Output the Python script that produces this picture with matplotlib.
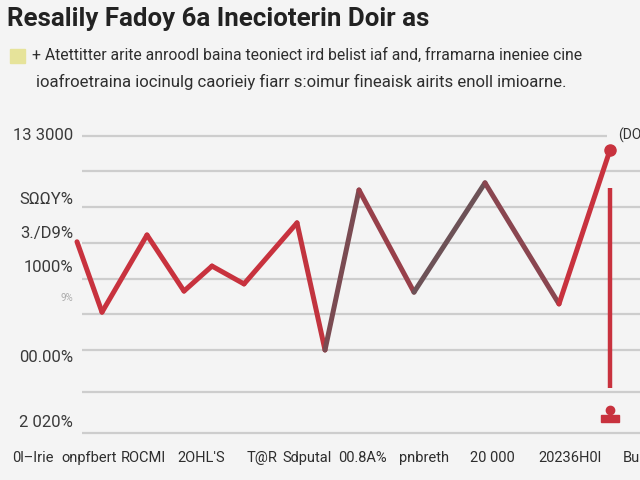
import matplotlib.pyplot as plt
from matplotlib.patches import Rectangle

# chart values (x in periods, y in points of the index)
x_vals = [0, 0.5, 1.4, 2.14, 2.7, 3.34, 4.4, 4.96, 5.64, 6.74, 8.16, 9.64, 10.66]
y_vals = [3.03, 1.06, 3.22, 1.65, 2.35, 1.85, 3.56, 0.0, 4.48, 1.62, 4.68, 1.29, 5.6]
seg_colors = ['#c8323e', '#c8323e', '#c8323e', '#c8323e', '#c8323e', '#c8323e',
              '#c2343f', '#7a4b52', '#98404a', '#6d5257', '#8a4650', '#c8323e']

# vertical marker on the last period
bar_x = 10.66
bar_top = 4.54
bar_bottom = -1.06
pin_y = -1.68

grid_vals = [6, 5, 4, 3, 2, 1, 0, -1.17, -2.33]
ytick_vals = [6.0, 4.2, 3.27, 2.3, 1.45, -0.22, -2.02]
ytick_labels = ['13 3000', 'S\u03a9\u03a9Y%', '3./D9%', '1000%', '9%', '00.00%', '2 020%']

xtick_labels = ["0l\u2013Irie", 'onpfbert', 'ROCMI', "2OHL'S", 'T@R', "Sdputal",
                '00.8A%', 'pnbreth', '20 000', '20236H0l', 'Bu']
xtick_px = [33, 89, 143, 201, 262, 307, 362, 424, 492, 570, 631]

title = 'Resalily Fadoy 6a Inecioterin Doir as'
subtitle1 = '+ Atettitter arite anroodl baina teoniect ird belist iaf and, frramarna ineniee cine'
subtitle2 = 'ioafroetraina iocinulg caorieiy fiarr s:oimur fineaisk airits enoll imioarne.'

FONT = ['Roboto', 'DejaVu Sans']
W, H = 640, 480


def fit_width(t, target):
    # shrink/grow a text so it spans about `target` pixels
    r = fig.canvas.get_renderer()
    w = t.get_window_extent(r).width
    t.set_fontsize(t.get_fontsize() * target / w)


bg = '#f4f4f4'
fig = plt.figure(figsize=(6.4, 4.8), dpi=100, facecolor=bg)
ax = fig.add_axes([0, 0, 1, 1])
ax.set_facecolor(bg)
ax.set_xlim(-1.54, 11.26)
ax.set_ylim(-3.64, 9.8)
ax.axis('off')

# gridlines
for i, g in enumerate(grid_vals):
    right = 10.6 if i == 0 else 11.26
    ax.hlines(g, 0.1, right, color='#cdcdcd', lw=1.6, zorder=1)

# line drawn segment by segment
for i in range(len(x_vals) - 1):
    ax.plot(x_vals[i:i + 2], y_vals[i:i + 2], color=seg_colors[i], lw=3.6,
            solid_capstyle='round', solid_joinstyle='miter', zorder=3)
ax.plot(x_vals[-1], y_vals[-1], 'o', color='#c8323e', ms=8, zorder=4)

ax.vlines(bar_x, bar_bottom, bar_top, color='#c8323e', lw=3.2, zorder=3)
ax.add_patch(Rectangle((bar_x - 0.18, pin_y - 0.33), 0.36, 0.2, color='#c8323e', zorder=3))
ax.plot(bar_x, pin_y, 'o', color='#c8323e', ms=6, zorder=3)

# y labels
for v, lab in zip(ytick_vals, ytick_labels):
    small = lab == '9%'
    ax.text(-0.08, v, lab, ha='right', va='center',
            fontsize=7 if small else 12, color='#aaaaaa' if small else '#3a3a3a',
            family=FONT)

ax.text(10.82, 6.0, '(DO', ha='left', va='center', fontsize=10, color='#333333',
        family=FONT)

# x labels
for px, lab in zip(xtick_px, xtick_labels):
    fig.text(px / W, 1 - 458 / H, lab, ha='center', va='center', fontsize=10.5,
             color='#2e2e2e', family=FONT)

t = fig.text(7 / W, 1 - 19 / H, title, ha='left', va='center', fontsize=18,
             fontweight='bold', color='#222222', family=FONT)
fit_width(t, 423)

fig.add_artist(Rectangle((10 / W, 1 - 63 / H), 15 / W, 14 / H,
                         transform=fig.transFigure, color='#e6e39a'))
s1 = fig.text(32 / W, 1 - 55 / H, subtitle1, ha='left', va='center', fontsize=12,
              color='#2e2e2e', family=FONT)
fit_width(s1, 547)
s2 = fig.text(36 / W, 1 - 82 / H, subtitle2, ha='left', va='center', fontsize=12,
              color='#2e2e2e', family=FONT)
fit_width(s2, 531)

fig.savefig('out.png', dpi=100, facecolor=bg)
